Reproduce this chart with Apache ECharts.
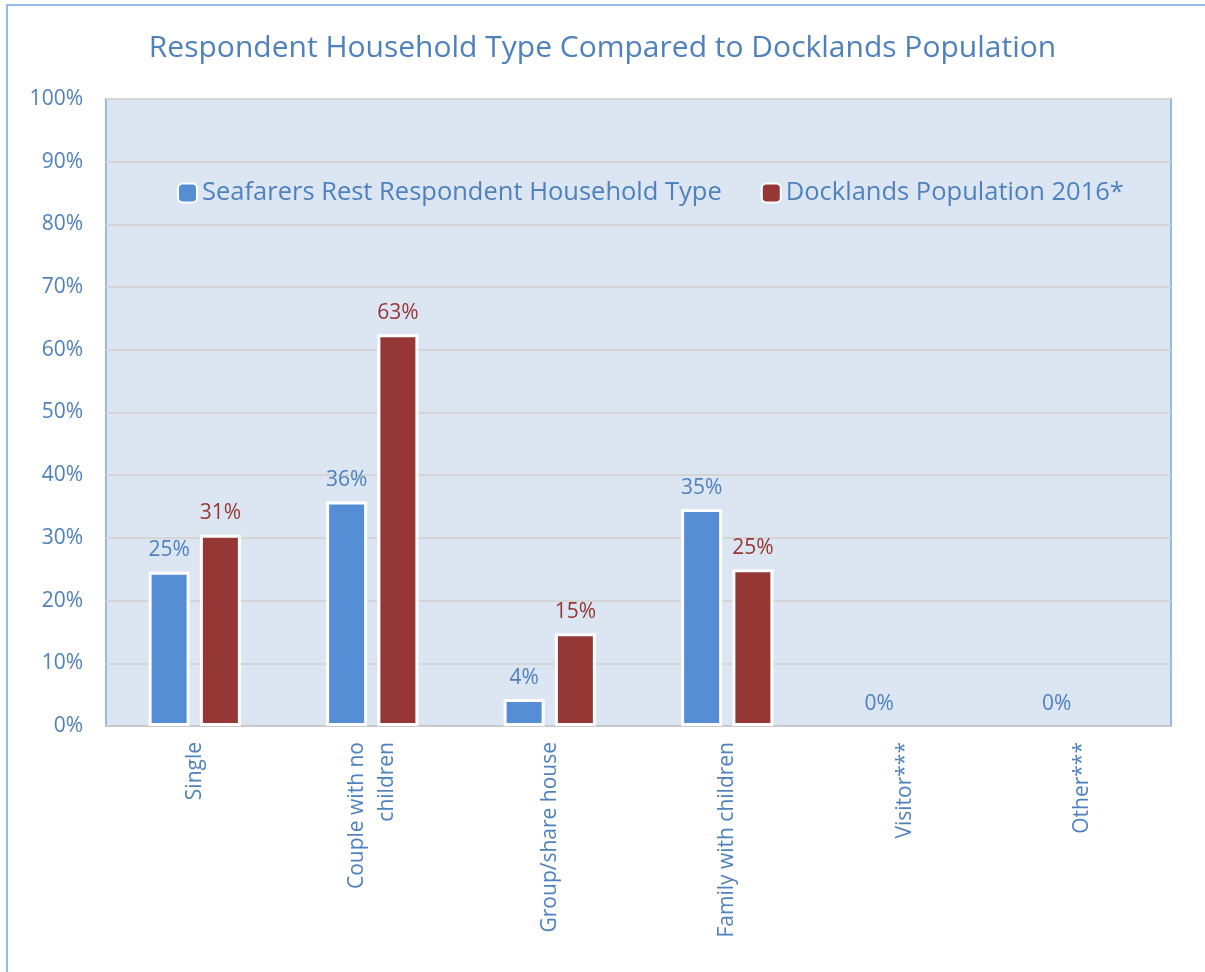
<!DOCTYPE html>
<html>
<head>
<meta charset="utf-8">
<script src="https://cdn.jsdelivr.net/npm/echarts@6/dist/echarts.min.js"></script>
<style>
html,body{margin:0;padding:0;background:#fff;}
#c{width:1205px;height:972px;}
</style>
</head>
<body>
<div id="c"></div>
<script>
const categories = ['Single', 'Couple with no\nchildren', 'Group/share house', 'Family with children', 'Visitor***', 'Other***'];
const seafarers = [24.6, 35.8, 4.3, 34.6, 0, 0];
const docklands = [30.5, 62.5, 14.8, 25.0, null, null];
const seriesNames = ['Seafarers Rest Respondent Household Type', 'Docklands Population 2016*'];
const yTicks = { min: 0, max: 100, interval: 10 };

const font = '"Open Sans", Lato, sans-serif';
const blueText = '#4f81bd';
// zero-height bars carry no visible white outline in the original
const toItems = arr => arr.map(v => (v === 0 ? { value: v, itemStyle: { borderWidth: 0 } } : v));
const chart = echarts.init(document.getElementById('c'), null, { renderer: 'canvas' });
chart.setOption({
  backgroundColor: '#ffffff',
  animation: false,
  title: {
    text: 'Respondent Household Type Compared to Docklands Population',
    left: 'center', top: 28,
    textStyle: { color: blueText, fontSize: 30, fontWeight: 'normal', fontFamily: font }
  },
  graphic: [{
    type: 'rect', shape: { x: 7, y: 5, width: 1300, height: 1100 },
    style: { fill: 'none', stroke: '#95b9e8', lineWidth: 2 }, silent: true, z: -1
  }],
  legend: {
    top: 175, left: 172,
    itemWidth: 19, itemHeight: 19, itemGap: 39,
    textStyle: { color: blueText, fontSize: 25.5, fontFamily: font },
    data: seriesNames
  },
  grid: {
    left: 106, top: 99, right: 34, bottom: 246,
    show: true, backgroundColor: '#dce6f2', borderColor: '#95b9e8', borderWidth: 2
  },
  xAxis: {
    type: 'category', data: categories,
    axisLine: { lineStyle: { color: '#c9c9c9', width: 2 } },
    axisTick: { show: false },
    axisLabel: { rotate: 90, color: blueText, fontSize: 21, fontFamily: font, margin: 16, lineHeight: 30, interval: 0 }
  },
  yAxis: {
    type: 'value', min: yTicks.min, max: yTicks.max, interval: yTicks.interval,
    axisLine: { show: false }, axisTick: { show: false },
    axisLabel: { formatter: '{value}%', color: blueText, fontSize: 21, fontFamily: font, margin: 23 },
    splitLine: { lineStyle: { color: '#d5d5d5', width: 2 } }
  },
  series: [
    {
      name: seriesNames[0], type: 'bar', data: toItems(seafarers),
      barWidth: 41, barGap: '25%',
      itemStyle: { color: '#558ed5', borderColor: '#ffffff', borderWidth: 3 },
      label: { show: true, position: 'top', distance: 11, color: blueText, fontSize: 21, fontFamily: font,
        formatter: p => Math.round(p.value) + '%' }
    },
    {
      name: seriesNames[1], type: 'bar', data: toItems(docklands),
      barWidth: 41,
      itemStyle: { color: '#953735', borderColor: '#ffffff', borderWidth: 3 },
      label: { show: true, position: 'top', distance: 11, color: '#953735', fontSize: 21, fontFamily: font,
        formatter: p => Math.round(p.value) + '%' }
    }
  ]
});
</script>
</body>
</html>
